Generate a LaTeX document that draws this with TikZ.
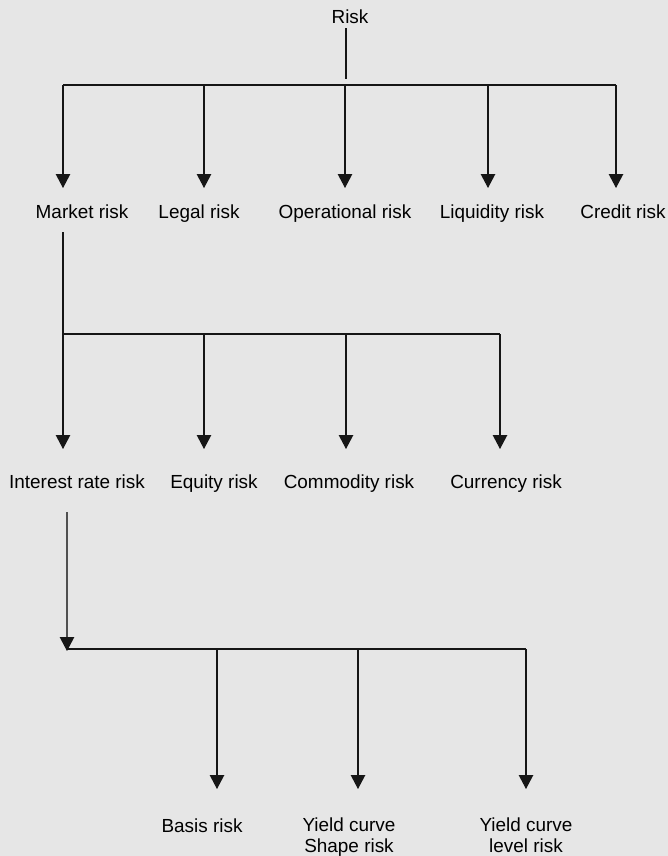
\documentclass[tikz,border=0pt]{standalone}
\usepackage{fontspec}
\setmainfont{Liberation Sans}
\usetikzlibrary{arrows.meta}
\definecolor{bg}{HTML}{E6E6E6}
\definecolor{ln}{HTML}{161616}
\begin{document}
\begin{tikzpicture}[x=1bp,y=-1bp,
  lbl/.style={font=\fontsize{19}{21}\selectfont, inner sep=0pt, anchor=base, text=black},
  lbltwo/.style={font=\fontsize{19}{21}\selectfont, inner sep=0pt, anchor=north, align=center, text=black},
  wire/.style={line width=1.1bp, draw=ln},
  arr/.style={wire, -{Triangle[width=14.5bp,length=14bp,color=ln]}}]
\fill[bg] (0,0) rectangle (668,856);
\useasboundingbox (0,0) rectangle (668,856);

% labels
\node[lbl] (risk) at (350,23) {Risk};
\node[lbl] (market) at (82,218) {Market risk};
\node[lbl] (legal) at (199,218) {Legal risk};
\node[lbl] (oper) at (345,218) {Operational risk};
\node[lbl] (liquid) at (492,218) {Liquidity risk};
\node[lbl] (credit) at (623,218) {Credit risk};
\node[lbl] (interest) at (77,488) {Interest rate risk};
\node[lbl] (equity) at (214,488) {Equity risk};
\node[lbl] (commod) at (349,488) {Commodity risk};
\node[lbl] (currency) at (506,488) {Currency risk};
\node[lbl] (basis) at (202,832) {Basis risk};
\node[lbltwo] (shape) at (349,818) {Yield curve\\ Shape risk};
\node[lbltwo] (level) at (526,818) {Yield curve\\level risk};

% level 1
\coordinate (r0) at (346,28);
\coordinate (r1) at (346,79);
\coordinate (a1) at (63,85);
\coordinate (a2) at (204,85);
\coordinate (a3) at (345,85);
\coordinate (a4) at (488,85);
\coordinate (a5) at (616,85);
\coordinate (t1) at (63,188);
\coordinate (t2) at (204,188);
\coordinate (t3) at (345,188);
\coordinate (t4) at (488,188);
\coordinate (t5) at (616,188);
\draw[wire] (r0) -- (r1);
\draw[wire] (a1) -- (a5);
\draw[arr] (a1) -- (t1);
\draw[arr] (a2) -- (t2);
\draw[arr] (a3) -- (t3);
\draw[arr] (a4) -- (t4);
\draw[arr] (a5) -- (t5);

% level 2
\coordinate (m0) at (63,232);
\coordinate (b1) at (63,334);
\coordinate (b2) at (204,334);
\coordinate (b3) at (346,334);
\coordinate (b4) at (500,334);
\coordinate (u1) at (63,449);
\coordinate (u2) at (204,449);
\coordinate (u3) at (346,449);
\coordinate (u4) at (500,449);
\draw[wire] (m0) -- (b1);
\draw[wire] (b1) -- (b4);
\draw[arr] (b1) -- (u1);
\draw[arr] (b2) -- (u2);
\draw[arr] (b3) -- (u3);
\draw[arr] (b4) -- (u4);

% level 3
\coordinate (i0) at (67,512);
\coordinate (c1) at (67,651);
\coordinate (c0) at (67,649);
\coordinate (c2) at (217,649);
\coordinate (c3) at (358,649);
\coordinate (c4) at (526,649);
\coordinate (v2) at (217,789);
\coordinate (v3) at (358,789);
\coordinate (v4) at (526,789);
\draw[arr, draw=ln!75!white] (i0) -- (c1);
\draw[wire] (c0) -- (c4);
\draw[arr] (c2) -- (v2);
\draw[arr] (c3) -- (v3);
\draw[arr] (c4) -- (v4);
\end{tikzpicture}
\end{document}
